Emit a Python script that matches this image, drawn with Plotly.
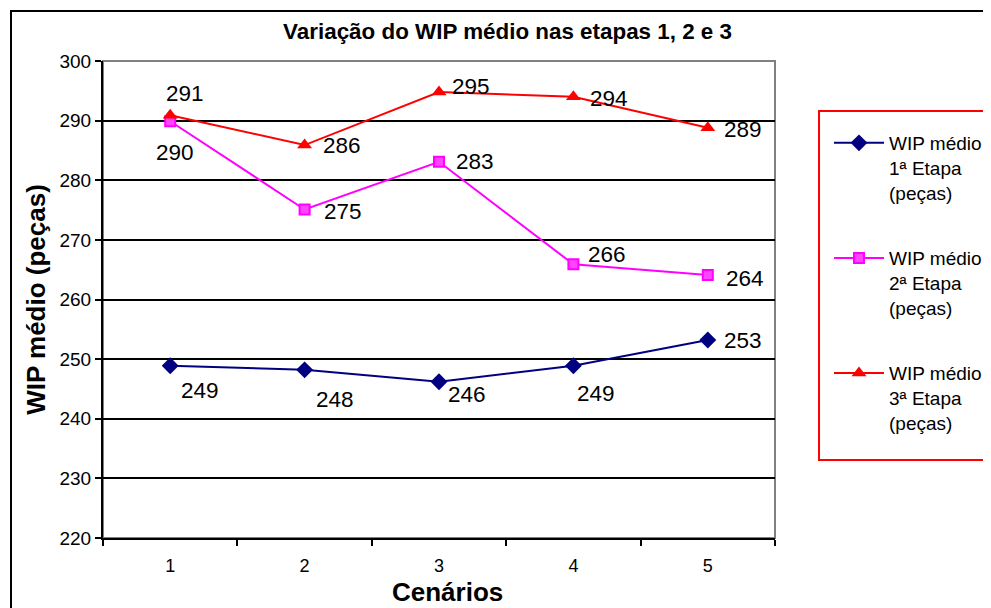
import plotly.graph_objects as go

cenarios = ["1", "2", "3", "4", "5"]
etapa1 = [248.9, 248.2, 246.2, 248.9, 253.2]
etapa2 = [289.9, 275.1, 283.1, 265.9, 264.1]
etapa3 = [290.9, 285.9, 294.8, 294.0, 288.8]
nomes = ["WIP médio<br>1ª Etapa<br>(peças)",
         "WIP médio<br>2ª Etapa<br>(peças)",
         "WIP médio<br>3ª Etapa<br>(peças)"]

# label offsets in pixels (x, y) relative to each point
off1 = [(30, -25), (30, -30), (28, -13), (23, -28), (35, 0)]
off2 = [(5, -31), (38, -2), (36, 0), (34, 10), (37, -3)]
off3 = [(15, 22), (37, 0), (32, 6), (36, -2), (35, -2)]

fig = go.Figure()

fig.add_trace(go.Scatter(
    x=cenarios, y=etapa1, mode="lines+markers", name=nomes[0], legendgroup="a",
    line=dict(color="#000080", width=2),
    marker=dict(symbol="diamond", size=13, color="#000080")
))
fig.add_trace(go.Scatter(
    x=cenarios, y=etapa2, mode="lines+markers", name=nomes[1], legendgroup="b",
    line=dict(color="#ff00ff", width=2),
    marker=dict(symbol="square", size=10, color="#ff44ff", line=dict(color="#ff00ff", width=2))
))
fig.add_trace(go.Scatter(
    x=cenarios, y=etapa3, mode="lines+markers", name=nomes[2], legendgroup="c",
    line=dict(color="#ff0000", width=2),
    marker=dict(symbol="triangle-up", size=13, color="#ff0000")
))

# annotations on a category axis take the category index as x
for serie, offs in [(etapa1, off1), (etapa2, off2), (etapa3, off3)]:
    for i, (v, (dx, dy)) in enumerate(zip(serie, offs)):
        fig.add_annotation(
            x=i, y=v, text=f"{v:.0f}", showarrow=False,
            xshift=dx, yshift=dy,
            font=dict(family="Liberation Sans, Arial", size=22.5, color="black")
        )

# x axis title, placed a little right of the plot centre as in the original
fig.add_annotation(
    xref="paper", yref="paper", x=0.512, y=-0.1132, text="<b>Cenários</b>",
    showarrow=False, xanchor="center", yanchor="middle",
    font=dict(family="Liberation Sans, Arial", size=26, color="black")
)

# plot area border (gray top/right), legend box, outer chart border
fig.add_shape(type="rect", xref="paper", yref="paper", x0=0, x1=1, y0=0, y1=1,
              line=dict(color="#808080", width=2), layer="below")
fig.add_shape(type="rect", xref="paper", yref="paper", x0=1.0655, x1=1.4, y0=0.1635, y1=0.895,
              line=dict(color="#ff0000", width=2))
fig.add_shape(type="rect", xref="paper", yref="paper", x0=-0.1369, x1=2, y0=-1, y1=1.1048,
              line=dict(color="black", width=2))

# the page body adds an 8px margin, so the figure is 8px smaller than the window
fig.update_layout(
    width=983, height=600,
    margin=dict(l=95, r=216, t=53, b=70),
    paper_bgcolor="white", plot_bgcolor="white",
    font=dict(family="Liberation Sans, Arial", color="black"),
    title=dict(text="<b>Variação do WIP médio nas etapas 1, 2 e 3</b>",
               x=0.602, xref="paper", xanchor="center",
               y=0.9617, yref="container", yanchor="middle",
               font=dict(size=22.4)),
    showlegend=True,
    legend=dict(xref="container", yref="container",
                x=0.8352, xanchor="left", y=0.8067, yanchor="top", valign="top",
                font=dict(size=19), tracegroupgap=38, maxheight=600,
                bgcolor="rgba(0,0,0,0)", itemwidth=50),
    xaxis=dict(
        type="category", range=[-0.5, 4.5], autorange=False,
        tickson="boundaries", ticks="outside", ticklen=6,
        tickcolor="black", tickwidth=2, automargin=False,
        showline=True, linecolor="black", linewidth=2, showgrid=False,
        tickfont=dict(size=18), ticklabelstandoff=10,
    ),
    yaxis=dict(
        range=[220, 300], dtick=10, ticks="outside", ticklen=6,
        tickcolor="black", tickwidth=2, automargin=False,
        showline=True, linecolor="black", linewidth=2,
        showgrid=True, gridcolor="black", gridwidth=1.5, zeroline=False,
        tickfont=dict(size=19),
        title=dict(text="<b>WIP médio (peças)</b>", font=dict(size=26), standoff=6),
    ),
)

fig.write_html("out.html")
